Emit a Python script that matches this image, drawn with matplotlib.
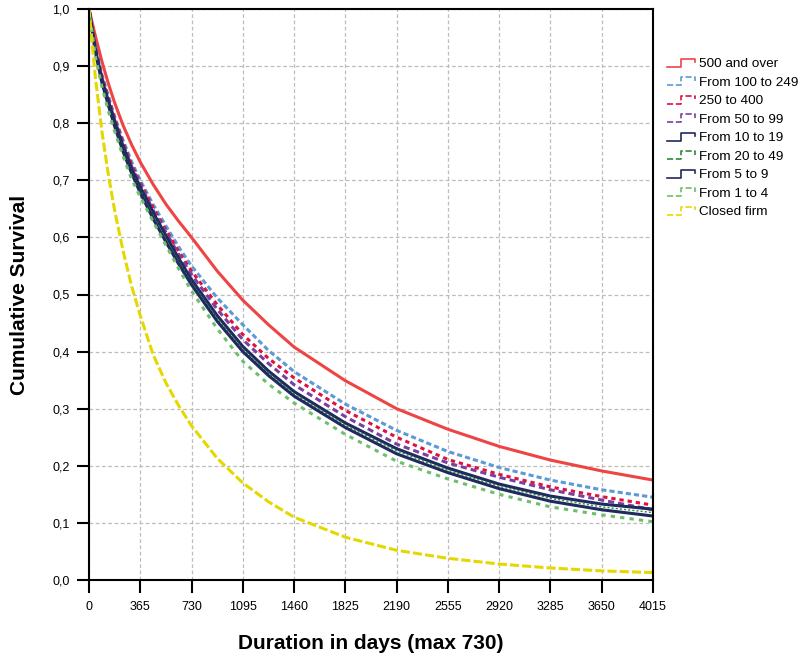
import matplotlib
matplotlib.use("Agg")
import matplotlib.pyplot as plt
from matplotlib.legend_handler import HandlerLine2D
from matplotlib.lines import Line2D
from matplotlib.ticker import FuncFormatter

plt.rcParams['font.family'] = ['Liberation Sans', 'DejaVu Sans']

days = [0, 45, 91, 137, 182, 243, 304, 365, 456, 548, 639, 730, 913, 1095, 1278, 1460,
        1825, 2190, 2555, 2920, 3285, 3650, 4015]

s_500_over = [1.0, 0.953, 0.909, 0.870, 0.836, 0.796, 0.762, 0.732, 0.693, 0.658, 0.628, 0.60,
              0.541, 0.49, 0.447, 0.408, 0.349, 0.30, 0.264, 0.234, 0.21, 0.191, 0.175]
s_100_249 = [1.0, 0.935, 0.886, 0.848, 0.812, 0.77, 0.732, 0.70, 0.658, 0.62, 0.583, 0.55,
             0.494, 0.447, 0.402, 0.365, 0.308, 0.262, 0.225, 0.197, 0.175, 0.158, 0.145]
s_250_400 = [1.0, 0.933, 0.883, 0.845, 0.809, 0.766, 0.727, 0.695, 0.652, 0.613, 0.575, 0.541,
             0.482, 0.43, 0.388, 0.354, 0.297, 0.25, 0.211, 0.185, 0.163, 0.146, 0.131]
s_50_99 = [1.0, 0.932, 0.881, 0.842, 0.806, 0.763, 0.724, 0.692, 0.648, 0.609, 0.570, 0.535,
           0.474, 0.421, 0.379, 0.342, 0.286, 0.238, 0.205, 0.18, 0.158, 0.14, 0.123]
s_10_19 = [1.0, 0.93, 0.877, 0.84, 0.803, 0.76, 0.72, 0.688, 0.644, 0.603, 0.563, 0.526,
           0.463, 0.409, 0.366, 0.330, 0.275, 0.23, 0.196, 0.168, 0.147, 0.133, 0.124]
s_20_49 = [1.0, 0.927, 0.874, 0.836, 0.799, 0.755, 0.716, 0.683, 0.638, 0.597, 0.558, 0.521,
           0.458, 0.404, 0.362, 0.326, 0.271, 0.226, 0.192, 0.164, 0.143, 0.128, 0.118]
s_5_9 = [1.0, 0.925, 0.872, 0.832, 0.795, 0.75, 0.712, 0.678, 0.633, 0.592, 0.553, 0.517,
         0.453, 0.40, 0.358, 0.322, 0.267, 0.221, 0.188, 0.16, 0.138, 0.123, 0.112]
s_1_4 = [1.0, 0.917, 0.865, 0.822, 0.786, 0.742, 0.702, 0.671, 0.628, 0.586, 0.545, 0.506,
         0.44, 0.383, 0.343, 0.31, 0.255, 0.208, 0.177, 0.15, 0.128, 0.114, 0.102]
s_closed = [1.0, 0.881, 0.787, 0.711, 0.648, 0.576, 0.514, 0.463, 0.395, 0.345, 0.305, 0.27,
            0.213, 0.17, 0.137, 0.11, 0.075, 0.052, 0.038, 0.028, 0.021, 0.016, 0.013]

labels = ["500 and over", "From 100 to 249", "250 to 400", "From 50 to 99",
          "From 10 to 19", "From 20 to 49", "From 5 to 9", "From 1 to 4", "Closed firm"]
series = [s_500_over, s_100_249, s_250_400, s_50_99, s_10_19, s_20_49, s_5_9, s_1_4, s_closed]
colors = ["#EE4444", "#5B9BD5", "#E0103F", "#7B3F9E", "#1F2A5E", "#2E8B3A", "#1F2A5E", "#6DBF6D", "#E5D800"]
styles = ["-", (0, (1.7, 1.0)), (0, (1.4, 1.3)), (0, (2.0, 1.3)), "-", (0, (1.5, 1.5)), "-",
          (0, (1.4, 1.7)), (0, (3.0, 1.0))]
widths = [2.2, 2.2, 2.2, 2.2, 2.2, 1.0, 2.2, 2.2, 2.2]

x_ticks = [0, 365, 730, 1095, 1460, 1825, 2190, 2555, 2920, 3285, 3650, 4015]
y_ticks = [0.0, 0.1, 0.2, 0.3, 0.4, 0.5, 0.6, 0.7, 0.8, 0.9, 1.0]


class StepHandler(HandlerLine2D):
    def create_artists(self, legend, orig_handle, xdescent, ydescent, width, height, fontsize, trans):
        x0 = -xdescent
        x1 = x0 + width * 0.5
        x2 = x0 + width
        ylo = -ydescent + height * 0.05
        yhi = -ydescent + height * 0.9
        ln = Line2D([x0, x1, x1, x2, x2], [ylo, ylo, yhi, yhi, yhi - height * 0.35],
                    color=orig_handle.get_color(), linestyle=orig_handle.get_linestyle(),
                    linewidth=1.2)
        ln.set_transform(trans)
        return [ln]


fig = plt.figure(figsize=(8.05, 6.60), dpi=100)
ax = fig.add_axes([89 / 805, 1 - 580 / 660, (653 - 89) / 805, (580 - 9) / 660])

handles = []
for s, lab, c, ls, lw in zip(series, labels, colors, styles, widths):
    h, = ax.plot(days, s, color=c, linestyle=ls, linewidth=lw, label=lab)
    handles.append(h)

ax.set_xlim(0, 4015)
ax.set_ylim(0, 1.0)
ax.set_xticks(x_ticks)
ax.set_yticks(y_ticks)
ax.yaxis.set_major_formatter(FuncFormatter(lambda v, p: f"{v:.1f}".replace(".", ",")))
ax.grid(True, color="#bdbdbd", linestyle=(0, (3, 2)), linewidth=0.9)
ax.set_axisbelow(True)
ax.tick_params(axis="both", direction="out", length=9, width=1.5, labelsize=9, colors="black")
ax.tick_params(axis="x", pad=6)
ax.tick_params(axis="y", pad=5)
for sp in ax.spines.values():
    sp.set_linewidth(1.5)
    sp.set_color("black")

ax.set_xlabel("Duration in days (max 730)", fontsize=15, fontweight="bold", labelpad=15)
ax.set_ylabel("Cumulative Survival", fontsize=15, fontweight="bold", labelpad=17)

leg = fig.legend(handles=handles, labels=labels, loc="upper left",
                 bbox_to_anchor=(667 / 805, 1 - 58 / 660), bbox_transform=fig.transFigure,
                 frameon=False, handlelength=2.1, handletextpad=0.3, labelspacing=0.45,
                 borderpad=0, borderaxespad=0,
                 handler_map={Line2D: StepHandler()}, prop={'size': 9.7})

fig.savefig("out.png", dpi=100)
